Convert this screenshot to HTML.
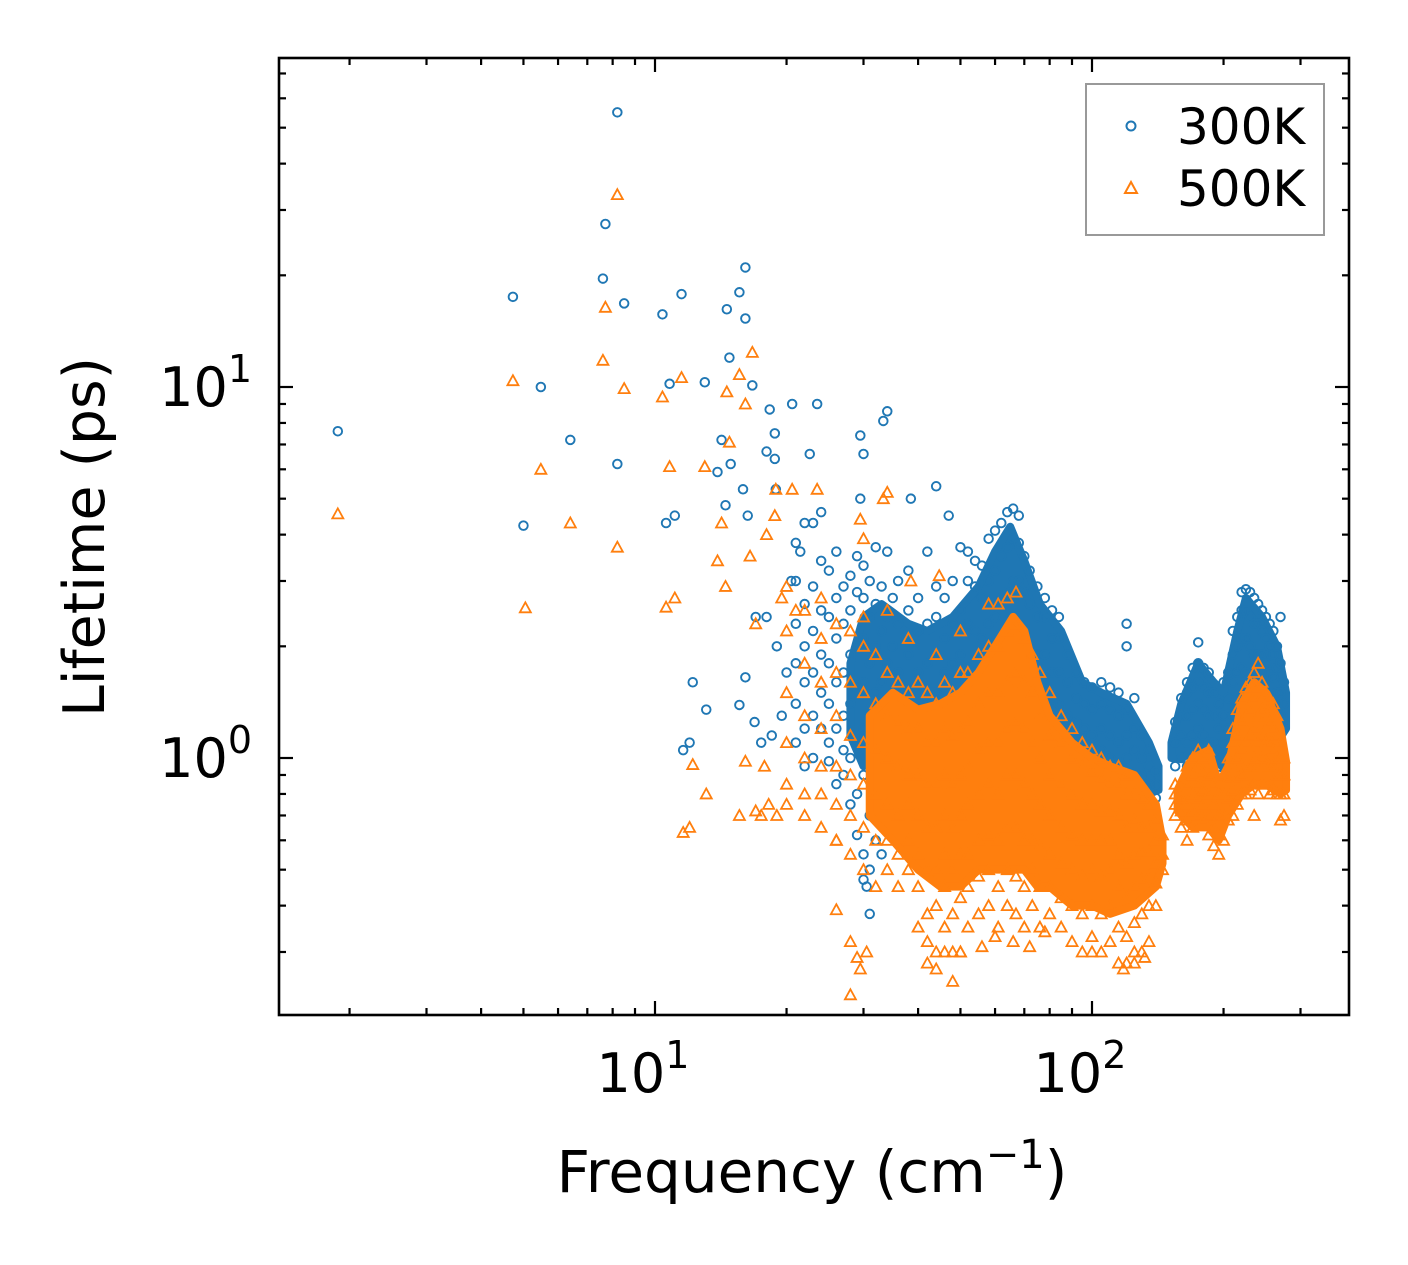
<!DOCTYPE html>
<html><head><meta charset="utf-8">
<style>
html,body{margin:0;padding:0;background:#fff;}
svg{display:block;font-family:"DejaVu Sans","Liberation Sans",sans-serif;}
</style></head>
<body>
<svg id="chart" width="1408" height="1265" viewBox="0 0 1408 1265" xmlns="http://www.w3.org/2000/svg">
<rect x="0" y="0" width="1408" height="1265" fill="#fff"/>
<g id="bands"></g>
<g id="marks300"></g>
<g id="marks500"></g>
<g id="axes"></g>
<rect x="279" y="58" width="1070" height="957" fill="none" stroke="#000" stroke-width="2.6"/>
<text x="812" y="1192" font-size="58" text-anchor="middle">Frequency (cm<tspan dy="-24" font-size="40">−1</tspan><tspan dy="24">)</tspan></text>
<text transform="translate(104,537) rotate(-90)" font-size="57" text-anchor="middle">Lifetime (ps)</text>
<g>
<rect x="1086" y="84" width="238" height="151" fill="#fff" stroke="#999" stroke-width="2"/>
<circle cx="1131" cy="126" r="4.5" fill="none" stroke="#1f77b4" stroke-width="2"/>
<text x="1177" y="144" font-size="50">300K</text>
<path d="M1131,182 L1137,193 L1125,193 Z" fill="none" stroke="#ff7f0e" stroke-width="2"/>
<text x="1177" y="206" font-size="50">500K</text>
</g>
</svg>
<script>
const xMajor=[10,100];
const xMinor=[2,3,4,5,6,7,8,9,20,30,40,50,60,70,80,90,200,300];
const yMajor=[1,10];
const yMinor=[0.3,0.4,0.5,0.6,0.7,0.8,0.9,2,3,4,5,6,7,8,9,20,30,40,50,60,70];
const xTickExp=["1","2"];
const yTickExp=["0","1"];

const band300=[[28,1.15,1.8],[30,0.95,2.4],[33,1.0,2.6],[38,0.8,2.3],[42,0.7,2.2],[48,0.75,2.4],[55,0.8,2.9],[60,0.8,3.6],[65,0.9,4.2],[70,0.95,3.4],[76,0.95,2.6],[85,0.95,2.2],[95,0.95,1.6],[105,0.9,1.5],[120,0.85,1.4],[135,0.8,1.1],[142,0.82,0.95]];
const band300b=[[152,1.0,1.1],[160,1.0,1.4],[175,1.05,1.8],[190,1.0,1.6],[200,0.95,1.5],[215,1.1,2.2],[225,1.1,2.7],[245,1.1,2.4],[265,1.1,2.0],[278,1.2,1.5]];
const band500=[[31,0.7,1.3],[35,0.6,1.5],[40,0.5,1.35],[45,0.45,1.4],[50,0.45,1.5],[55,0.5,1.7],[60,0.5,2.0],[66,0.5,2.4],[70,0.5,2.2],[75,0.45,1.6],[80,0.45,1.3],[90,0.4,1.1],[100,0.4,1.0],[110,0.38,0.95],[125,0.4,0.9],[140,0.45,0.75],[145,0.52,0.6]];
const band500b=[[157,0.72,0.82],[170,0.65,1.0],[185,0.65,1.05],[195,0.6,0.85],[205,0.7,0.95],[220,0.8,1.4],[235,0.85,1.6],[250,0.85,1.5],[270,0.8,1.2],[278,0.82,0.98]];

const cols300=[[21,[1.1,1.4,1.8,2.3,3.0,3.8]],[22,[0.95,1.2,1.6,2.0,2.6,4.3]],[23,[1.0,1.3,1.7,2.2,2.9]],[24,[1.2,1.5,1.9,2.5,3.4,4.6]],[25,[0.98,1.1,1.4,1.8,2.4,3.2]],[26,[0.85,1.2,1.6,2.1,2.7,3.6]],[27,[0.9,1.05,1.3,1.7,2.3,2.9]],[28,[0.75,1.0,1.4,1.9,2.5,3.1]],[29,[0.62,0.8,1.1,1.5,2.0,2.8,3.5]],[30,[0.47,0.55,0.9,1.2,1.6,2.1,2.7,3.3]],[31,[0.5,0.7,1.0,1.3,1.8,2.4,3.0]],[32,[0.6,0.85,1.1,1.5,2.0,2.6,3.7]],[33,[0.75,0.95,1.25,1.6,2.2,2.9]],[34,[0.8,1.0,1.4,1.8,2.4,3.6]],[35,[0.7,0.9,1.15,1.5,2.0,2.7]],[36,[0.85,1.1,1.3,1.7,2.3,3.0]],[38,[0.65,0.9,1.2,1.5,1.9,2.5,3.2]],[40,[0.55,0.8,1.0,1.3,1.7,2.2,2.7]],[42,[0.6,0.85,1.1,1.4,1.8,2.3,3.6]],[44,[0.7,0.9,1.2,1.5,1.9,2.4,2.9]],[46,[0.5,0.75,1.0,1.3,1.7,2.1,2.7]],[48,[0.65,0.85,1.1,1.4,1.8,2.3,3.0]],[50,[0.7,0.95,1.2,1.5,1.9,2.5,3.7]],[52,[0.6,0.8,1.05,1.35,1.75,2.3,3.0,3.6]],[54,[0.75,1.0,1.3,1.7,2.2,2.9,3.4]],[56,[0.7,0.9,1.2,1.6,2.1,2.7,3.3]],[58,[0.8,1.0,1.3,1.7,2.3,3.0,3.9]],[60,[0.75,1.0,1.35,1.8,2.4,3.2,4.1]],[62,[0.85,1.1,1.5,2.0,2.7,3.5,4.3]],[64,[0.9,1.2,1.6,2.1,2.8,3.7,4.6]],[66,[0.9,1.2,1.6,2.2,3.0,3.9,4.7]],[68,[0.95,1.3,1.7,2.3,3.0,3.8,4.5]],[70,[0.9,1.2,1.6,2.1,2.8,3.5]],[72,[0.95,1.25,1.6,2.0,2.6,3.2]],[75,[0.9,1.2,1.5,1.9,2.4,2.9]],[78,[0.95,1.2,1.5,1.9,2.4,2.7]],[81,[0.9,1.1,1.4,1.7,2.1,2.5]],[84,[0.95,1.15,1.4,1.7,2.1,2.4]],[88,[0.9,1.1,1.3,1.6,1.9]],[92,[0.9,1.05,1.25,1.45,1.7]],[96,[0.85,1.0,1.2,1.4,1.6]],[100,[0.85,1.0,1.15,1.35,1.55]],[105,[0.9,1.05,1.2,1.4,1.6]],[110,[0.85,1.0,1.15,1.35,1.55]],[115,[0.8,0.95,1.1,1.3,1.5]],[120,[0.85,1.0,1.15,1.35,2.0]],[125,[0.8,0.9,1.05,1.2,1.45]],[130,[0.8,0.9,1.0,1.15]],[135,[0.75,0.85,0.95,1.05]],[140,[0.78,0.85,0.92]],[155,[0.95,1.1,1.25]],[160,[1.0,1.15,1.3,1.45]],[165,[0.95,1.1,1.3,1.5,1.6]],[170,[1.0,1.15,1.35,1.55,1.75]],[175,[1.05,1.2,1.4,1.6,1.8,2.05]],[180,[1.0,1.15,1.35,1.55,1.75]],[185,[0.95,1.1,1.3,1.5,1.7]],[190,[0.95,1.1,1.3,1.5]],[195,[0.9,1.05,1.2,1.4]],[200,[0.95,1.1,1.3,1.6]],[205,[1.0,1.2,1.45,1.7]],[210,[1.05,1.3,1.6,1.9,2.2]],[215,[1.1,1.35,1.7,2.0,2.4]],[220,[1.1,1.4,1.75,2.1,2.5,2.8]],[225,[1.0,1.3,1.7,2.1,2.5,2.85]],[230,[1.0,1.3,1.6,2.0,2.4,2.8]],[235,[1.05,1.3,1.6,1.9,2.3,2.7]],[240,[1.0,1.25,1.55,1.9,2.3,2.6]],[245,[1.05,1.3,1.6,1.9,2.2,2.5]],[250,[1.0,1.25,1.5,1.8,2.1,2.4]],[255,[1.0,1.2,1.45,1.7,2.0,2.3]],[260,[1.0,1.2,1.4,1.65,1.9,2.2]],[265,[1.05,1.25,1.5,1.75,2.0]],[270,[1.1,1.3,1.5,1.8,2.4]],[275,[1.2,1.4,1.6]]];
const outliers300=[[1.88,7.6],[4.73,17.5],[5.0,4.23],[5.48,10],[6.4,7.2],[7.6,19.6],[7.7,27.5],[8.2,55],[8.2,6.2],[8.5,16.8],[10.4,15.7],[10.8,10.2],[10.6,4.3],[11.1,4.5],[11.5,17.8],[12.2,1.6],[11.6,1.05],[12,1.1],[13,10.3],[13.1,1.35],[13.9,5.9],[14.2,7.2],[14.5,4.8],[14.6,16.2],[14.8,12],[14.9,6.2],[15.6,18],[16.1,15.3],[16.1,21],[16.7,10.1],[15.9,5.3],[16.3,4.5],[16.1,1.65],[15.6,1.39],[16.9,1.25],[18,6.7],[18.3,8.7],[18.8,7.5],[18.8,6.4],[18.9,5.3],[20.6,9],[23.5,9],[22.6,6.6],[29.5,7.4],[30,6.6],[33.3,8.1],[34,8.6],[29.5,5],[38.5,5],[44,5.4],[47,4.5],[120,2.3],[17.5,1.1],[18.5,1.15],[19.5,1.3],[20,1.7],[19,2.0],[17,2.4],[18,2.4],[20.5,3.0],[21.5,3.6],[23,4.3],[31,0.38],[30.5,0.45],[33,0.55]];

const cols500=[[20,[0.75,0.85,1.1,1.5,2.2,2.9]],[22,[0.7,0.8,1.0,1.3,1.8,2.5]],[24,[0.65,0.8,0.95,1.2,1.6,2.1,2.7]],[26,[0.6,0.75,0.95,1.3,1.7,2.3]],[28,[0.55,0.7,0.9,1.15,1.6,2.2]],[30,[0.5,0.65,0.85,1.1,1.5,2.0,2.4]],[32,[0.45,0.6,0.8,1.05,1.4,1.9]],[34,[0.5,0.6,0.75,1.0,1.3,1.7,2.5]],[36,[0.45,0.55,0.7,0.95,1.25,1.6]],[38,[0.5,0.6,0.75,0.9,1.2,1.5,2.1]],[40,[0.35,0.45,0.55,0.7,0.9,1.2,1.6]],[42,[0.32,0.38,0.5,0.65,0.85,1.1,1.5]],[44,[0.3,0.4,0.5,0.65,0.85,1.1,1.4,1.9]],[46,[0.35,0.45,0.55,0.7,0.9,1.2,1.6]],[48,[0.3,0.38,0.5,0.65,0.85,1.15,1.5]],[50,[0.3,0.42,0.55,0.7,0.9,1.2,1.7,2.2]],[52,[0.35,0.45,0.55,0.75,0.95,1.25,1.7]],[55,[0.38,0.48,0.6,0.8,1.05,1.4,1.9]],[58,[0.4,0.5,0.62,0.85,1.1,1.5,2.0,2.6]],[61,[0.35,0.45,0.6,0.8,1.1,1.5,2.0,2.6]],[64,[0.4,0.5,0.65,0.9,1.2,1.6,2.2,2.7]],[67,[0.38,0.48,0.65,0.9,1.25,1.7,2.3,2.8]],[70,[0.35,0.45,0.6,0.85,1.2,1.6,2.1]],[73,[0.4,0.5,0.6,0.8,1.1,1.5,1.9]],[76,[0.35,0.45,0.58,0.75,1.0,1.3,1.7]],[80,[0.38,0.45,0.55,0.7,0.9,1.15,1.5]],[85,[0.35,0.42,0.52,0.65,0.85,1.1,1.3]],[90,[0.32,0.4,0.5,0.62,0.8,1.0,1.2]],[95,[0.3,0.38,0.48,0.6,0.75,0.95,1.1]],[100,[0.33,0.4,0.5,0.6,0.75,0.92,1.05]],[105,[0.3,0.38,0.48,0.6,0.72,0.88,1.0]],[110,[0.32,0.4,0.5,0.6,0.72,0.85,0.95]],[115,[0.28,0.35,0.45,0.55,0.7,0.85,0.95]],[120,[0.28,0.33,0.42,0.52,0.65,0.8,0.9]],[125,[0.3,0.36,0.45,0.55,0.68,0.8]],[130,[0.3,0.38,0.47,0.56,0.65,0.78]],[135,[0.32,0.4,0.48,0.56,0.65,0.75]],[140,[0.4,0.46,0.52,0.6,0.68]],[145,[0.5,0.55,0.62]],[155,[0.7,0.75,0.8,0.85]],[160,[0.65,0.72,0.78,0.85]],[165,[0.6,0.68,0.75,0.85,0.95]],[170,[0.65,0.72,0.8,0.9,1.0]],[175,[0.7,0.78,0.85,0.95,1.05]],[180,[0.68,0.75,0.82,0.92,1.0]],[185,[0.62,0.7,0.8,0.9,1.05]],[190,[0.58,0.65,0.75,0.85]],[195,[0.55,0.62,0.7,0.8]],[200,[0.6,0.7,0.8,0.9]],[205,[0.68,0.78,0.88,1.0]],[210,[0.7,0.82,0.95,1.1,1.2]],[215,[0.75,0.88,1.0,1.15,1.35]],[220,[0.8,0.9,1.05,1.25,1.45]],[225,[0.8,0.95,1.1,1.3,1.55]],[230,[0.82,0.95,1.15,1.35,1.6]],[235,[0.7,0.85,1.0,1.2,1.45,1.7]],[240,[0.8,0.95,1.1,1.3,1.55,1.8]],[245,[0.85,1.0,1.15,1.35,1.6]],[250,[0.85,0.98,1.1,1.3,1.5]],[255,[0.8,0.95,1.1,1.25,1.45]],[260,[0.82,0.95,1.05,1.2,1.4]],[265,[0.8,0.9,1.0,1.15,1.3]],[270,[0.68,0.8,0.9,1.0,1.1]],[275,[0.7,0.8,0.9,1.0]]];
const outliers500=[[1.88,4.55],[4.73,10.4],[5.05,2.54],[5.48,6],[6.4,4.3],[7.6,11.8],[7.7,16.4],[8.2,33],[8.2,3.7],[8.5,9.9],[10.4,9.4],[10.8,6.1],[10.6,2.55],[11.1,2.7],[11.5,10.6],[12.2,0.96],[11.6,0.63],[12,0.65],[13,6.1],[13.1,0.8],[13.9,3.4],[14.2,4.3],[14.5,2.9],[14.6,9.7],[14.8,7.1],[15.6,10.8],[16.1,9],[16.7,12.4],[16.1,0.98],[15.6,0.7],[17,0.72],[17.5,0.7],[18.2,0.75],[19,0.7],[17.8,0.95],[18,4],[18.8,4.5],[18.9,5.3],[20.6,5.3],[23.5,5.3],[29.5,4.4],[30,3.9],[33.3,5],[34,5.2],[26,0.6],[26,0.39],[28,0.32],[28,0.23],[29,0.29],[30.5,0.3],[29.5,0.27],[38.5,3.0],[44.7,3.1],[17,2.3],[16.5,3.5],[19.5,2.7],[21,2.5],[42,0.28],[44,0.27],[46,0.3],[48,0.25],[50,0.3],[56,0.31],[60,0.33],[66,0.32],[72,0.31],[78,0.34],[100,0.3],[118,0.27],[125,0.28],[132,0.29]];

const xs=f=>655+437*(Math.log10(f)-1);
const ys=v=>758-371*Math.log10(v);
const NS="http://www.w3.org/2000/svg";
function mk(tag,attrs,parent){const e=document.createElementNS(NS,tag);for(const k in attrs)e.setAttribute(k,attrs[k]);parent.appendChild(e);return e;}

const bands=document.getElementById('bands');
function drawBand(b,color,name,parent){
  const top=b.map(r=>xs(r[0])+','+ys(r[2]));
  const bot=b.slice().reverse().map(r=>xs(r[0])+','+ys(r[1]));
  const p=mk('polygon',{points:top.concat(bot).join(' '),fill:color,stroke:color,'stroke-width':8,'stroke-linejoin':'round'},parent);
  
  
}
drawBand(band300,'#1f77b4','band-300k-low',bands);
drawBand(band300b,'#1f77b4','band-300k-high',bands);

const g3=document.getElementById('marks300');
function circ(f,v){
  const c=mk('circle',{cx:xs(f),cy:ys(v),r:4.3,fill:'none',stroke:'#1f77b4','stroke-width':1.9},g3);
  
  
}
cols300.forEach(c=>c[1].forEach(v=>circ(c[0],v)));
outliers300.forEach(p=>circ(p[0],p[1]));

const g5=document.getElementById('marks500');
const bands2=mk('g',{},g5);


drawBand(band500,'#ff7f0e','band-500k-low',bands2);
drawBand(band500b,'#ff7f0e','band-500k-high',bands2);
function tri(f,v){
  const x=xs(f),y=ys(v);
  const t=mk('path',{d:`M${x},${y-5.5}L${x+5.5},${y+4.5}L${x-5.5},${y+4.5}Z`,fill:'none',stroke:'#ff7f0e','stroke-width':1.8},g5);
  
  
}
cols500.forEach(c=>c[1].forEach(v=>tri(c[0],v)));
outliers500.forEach(p=>tri(p[0],p[1]));

const ax=document.getElementById('axes');
const L=279,R=1349,T=58,B=1015;
function tick(x1,y1,x2,y2,name){
  const l=mk('line',{x1,y1,x2,y2,stroke:'#000','stroke-width':2.2},ax);
  
  
}
xMajor.forEach((f,i)=>{const x=xs(f);tick(x,B,x,B-14,'x-major-tick');tick(x,T,x,T+14,'x-major-tick-top');
  const t=mk('text',{x:x-12,y:1092,'font-size':54,'text-anchor':'middle'},ax);
  t.innerHTML='10<tspan dy="-24" font-size="38">'+xTickExp[i]+'</tspan>';
  
  });
xMinor.forEach(f=>{const x=xs(f);if(x<L||x>R)return;tick(x,B,x,B-7,'x-minor-tick');tick(x,T,x,T+7,'x-minor-tick-top');});
yMajor.forEach((v,i)=>{const y=ys(v);tick(L,y,L+14,y,'y-major-tick');tick(R,y,R-14,y,'y-major-tick-right');
  const t=mk('text',{x:252,y:y+19,'font-size':54,'text-anchor':'end'},ax);
  t.innerHTML='10<tspan dy="-24" font-size="38">'+yTickExp[i]+'</tspan>';
  
  });
yMinor.forEach(v=>{const y=ys(v);if(y<T||y>B)return;tick(L,y,L+7,y,'y-minor-tick');tick(R,y,R-7,y,'y-minor-tick-right');});
</script>
</body></html>
